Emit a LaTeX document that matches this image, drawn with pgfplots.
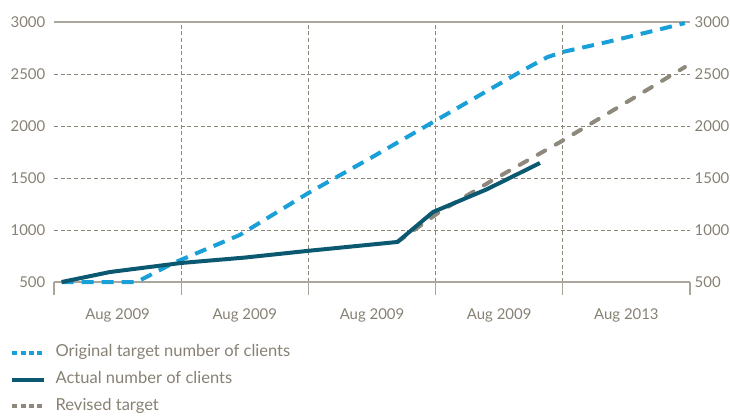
\documentclass[border=0pt]{standalone}
\usepackage{pgfplots}
\pgfplotsset{compat=1.18}
\usepackage{fontspec}
\setmainfont{Lato}
\definecolor{cblue}{HTML}{1AA0D8}
\definecolor{cdark}{HTML}{0B5871}
\definecolor{cgray}{HTML}{8E897C}
\definecolor{ctext}{HTML}{878173}
\definecolor{cgrid}{HTML}{8C8679}
\definecolor{cline}{HTML}{ABA69C}
\begin{document}
\begin{tikzpicture}
\begin{axis}[
  at={(0,0)}, anchor=south west,
  scale only axis, width=477pt, height=195pt,
  xmin=0, xmax=5, ymin=500, ymax=3000,
  clip=false,
  axis line style={draw=none},
  xtick={0,1,2,3,4,5}, xticklabels={},
  xtick pos=bottom, tick align=outside,
  major tick length=10pt,
  x tick style={draw=cline, line width=0.8pt},
  extra x ticks={0.5,1.5,2.5,3.5,4.5},
  extra x tick labels={Aug 2009,Aug 2009,Aug 2009,Aug 2009,Aug 2013},
  extra x tick style={major tick length=0pt, xticklabel style={yshift=-16.5pt}},
  minor xtick={1,2,3,4}, xminorgrids=true, minor tick length=0pt,
  ytick={500,1000,...,3000}, ymajorgrids=true, ytick pos=left,
  y tick style={draw=none},
  grid style={cgrid, line width=0.6pt, dash pattern=on 3pt off 2pt},
  tick label style={font=\fontsize{11.2}{13}\selectfont, text=ctext},
  yticklabel style={anchor=east, xshift=-3pt},
  ytick align=inside,
  /pgf/number format/assume math mode=true,
  /pgf/number format/1000 sep={},
  legend style={at={(axis description cs:0,0)}, anchor=north west,
    xshift=-33pt, yshift=-47.5pt, draw=none, fill=none, inner sep=0pt,
    row sep=9pt,
    font=\fontsize{12.4}{14}\selectfont, text=ctext,
    nodes={inner xsep=0pt, inner ysep=0pt, text height=8.5pt, text depth=2.5pt},
    /tikz/every odd column/.append style={column sep=7pt}},
  legend cell align=left,
  legend image code/.code={\draw[#1] (0pt,0pt) -- (24pt,0pt);},
]
\draw[cline, line width=1.1pt] (axis cs:0,3000) -- (axis cs:5,3000);
\draw[cline, line width=1.1pt] (axis cs:0,500) -- (axis cs:5,500);
\addlegendimage{cblue, line width=3pt, dash pattern=on 3.75pt off 2.5pt}
\addlegendentry{Original target number of clients}
\addlegendimage{cdark, line width=3pt}
\addlegendentry{Actual number of clients}
\addlegendimage{cgray, line width=3pt, dash pattern=on 3.75pt off 2.5pt}
\addlegendentry{Revised target}
% Original target
\addplot[forget plot, cblue, line width=3pt, dash pattern=on 9pt off 6pt] coordinates {
 (0.06,500) (0.65,500) (0.94,683) (1.46,952) (2.0,1356) (2.5,1700) (2.98,2038)
 (3.39,2327) (3.69,2538) (3.88,2663) (4.0,2712) (4.35,2808) (4.74,2923) (4.96,2990)};
% Revised target
\addplot[forget plot, cgray, line width=3pt, line cap=round, dash pattern=on 6.5pt off 9pt] coordinates {
 (2.70,885) (3.03,1173) (3.45,1481) (3.98,1846) (4.53,2250) (4.96,2567)};
% Actual
\addplot[forget plot, cdark, line width=3pt] coordinates {
 (0.06,500) (0.44,596) (1.0,683) (1.5,735) (2.0,800) (2.7,885) (2.98,1173) (3.40,1390) (3.82,1644)};
\end{axis}
\begin{axis}[
  at={(0,0)}, anchor=south west,
  scale only axis, width=477pt, height=195pt,
  xmin=0, xmax=5, ymin=500, ymax=3000,
  axis x line=none, axis y line*=right,
  y axis line style={draw=none},
  ytick={500,1000,...,3000}, y tick style={draw=none},
  yticklabel style={xshift=0pt},
  tick label style={font=\fontsize{11.2}{13}\selectfont, text=ctext},
  /pgf/number format/assume math mode=true,
  /pgf/number format/1000 sep={},
]
\end{axis}
\pgfresetboundingbox
\path[use as bounding box] (-40.5pt,-99.75pt) rectangle (507pt,211.5pt);
\end{tikzpicture}
\end{document}
